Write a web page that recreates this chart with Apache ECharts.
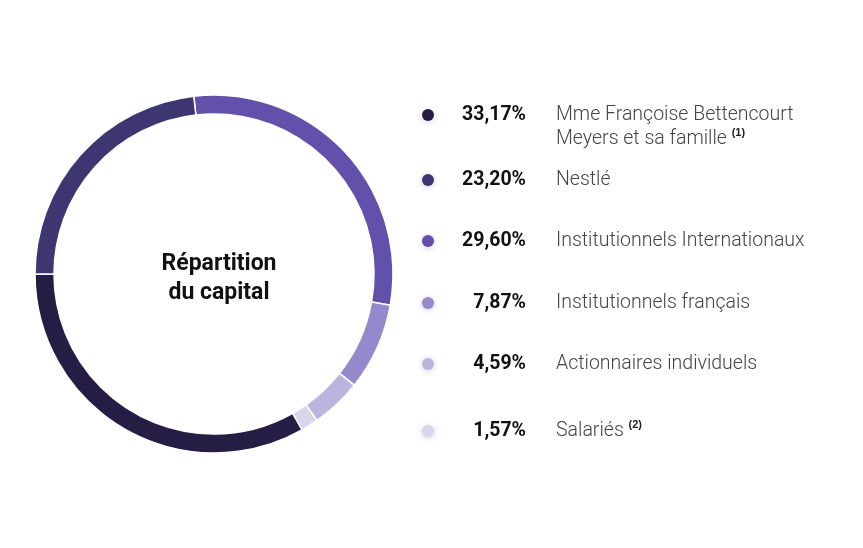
<!DOCTYPE html>
<html>
<head>
<meta charset="utf-8">
<script src="https://cdn.jsdelivr.net/npm/echarts@6/dist/echarts.min.js"></script>
<style>html,body{margin:0;padding:0;background:#fff}#chart{width:863px;height:548px}</style>
</head>
<body>
<div id="chart"></div>
<script>
// legend order (top to bottom)
const names = [
  "Mme Françoise Bettencourt\nMeyers et sa famille",
  "Nestlé",
  "Institutionnels Internationaux",
  "Institutionnels français",
  "Actionnaires individuels",
  "Salariés",
];
const notes = ["(1)", "", "", "", "", "(2)"];
const values = [33.17, 23.2, 29.6, 7.87, 4.59, 1.57];
const labels = ["33,17%", "23,20%", "29,60%", "7,87%", "4,59%", "1,57%"];
const colors = ["#261d45", "#3d3670", "#6250ab", "#9688cc", "#bbb4dd", "#d9d5ec"];
// clockwise order on the ring, starting near 12 o'clock
const ringOrder = [2, 3, 4, 5, 0, 1];
const legendY = [115, 180, 241, 303, 364, 431];

const chart = echarts.init(document.getElementById("chart"));

const graphic = [];
names.forEach((n, i) => {
  const y = legendY[i];
  graphic.push({
    type: "circle",
    shape: { cx: 428, cy: y, r: 6 },
    style: { fill: colors[i], shadowBlur: 6, shadowColor: "rgba(80,60,140,0.25)", shadowOffsetY: 1 },
  });
  graphic.push({
    type: "text",
    x: 526, y: y,
    style: { text: labels[i], font: "bold 19.5px Roboto", fill: "#111", align: "right", verticalAlign: "middle" },
  });
  const lines = n.split("\n");
  lines.forEach((line, k) => {
    const last = k === lines.length - 1;
    graphic.push({
      type: "text",
      x: 556, y: y + k * 24,
      style: {
        text: last && notes[i] ? line + " {s|" + notes[i] + "}" : line,
        font: "300 19.5px Roboto", fill: "#444", verticalAlign: "middle",
        rich: { s: { fontSize: 11, fontWeight: "bold", fill: "#222", verticalAlign: "top", padding: [0, 0, 12, 0] } },
      },
    });
  });
});

chart.setOption({
  animation: false,
  title: {
    text: "Répartition\ndu capital",
    left: 214, top: 245, textAlign: "center",
    textStyle: { fontFamily: "Roboto", fontWeight: "bold", fontSize: 23, color: "#111", lineHeight: 29 },
  },
  graphic: graphic,
  series: [{
    type: "pie",
    center: [214, 274],
    radius: [160, 179],
    startAngle: 96.5,
    clockwise: true,
    label: { show: false },
    labelLine: { show: false },
    silent: true,
    itemStyle: { borderColor: "#fff", borderWidth: 1.5 },
    data: ringOrder.map((i) => ({ name: names[i], value: values[i], itemStyle: { color: colors[i] } })),
  }],
});
</script>
</body>
</html>
